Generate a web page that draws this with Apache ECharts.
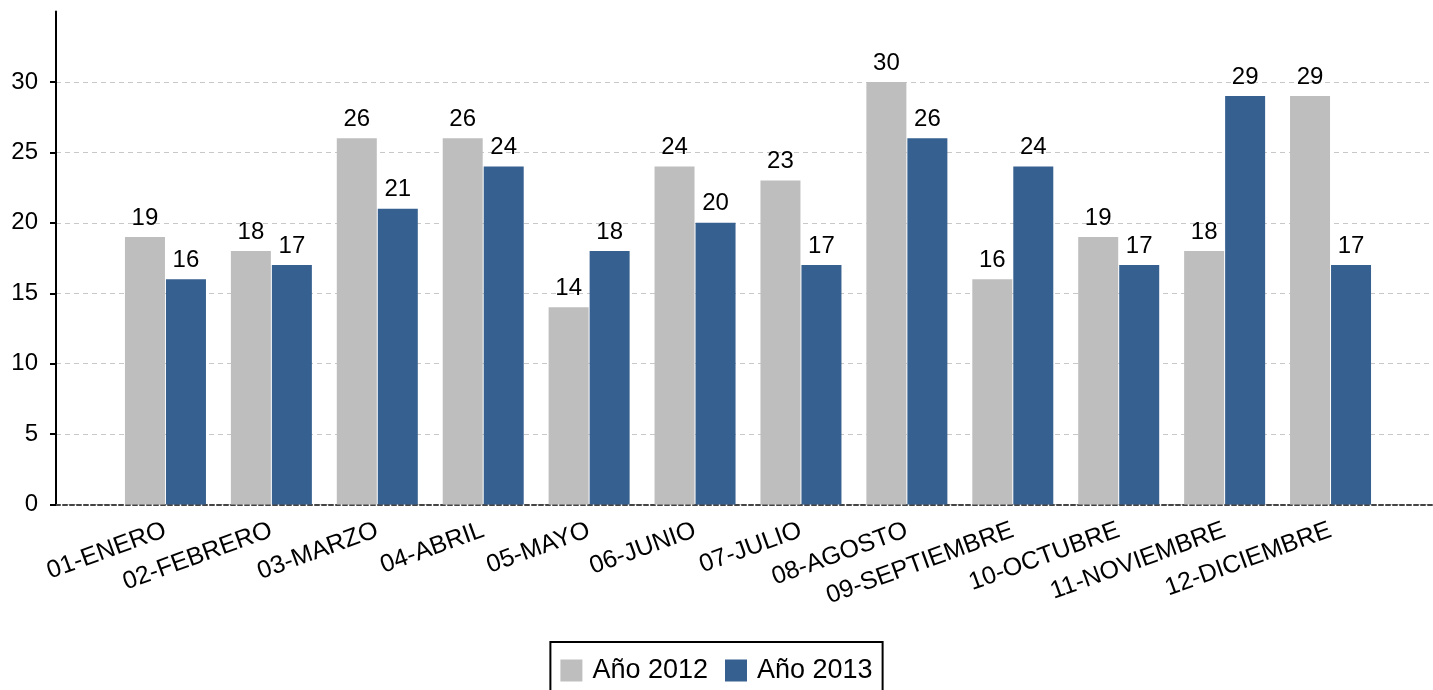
<!DOCTYPE html>
<html><head><meta charset="utf-8">
<script src="https://cdn.jsdelivr.net/npm/echarts@6/dist/echarts.min.js"></script>
<style>html,body{margin:0;padding:0;background:#fff}#c{width:1433px;height:690px}</style>
</head><body><div id="c"></div>
<script>
const categories = ['01-ENERO','02-FEBRERO','03-MARZO','04-ABRIL','05-MAYO','06-JUNIO','07-JULIO','08-AGOSTO','09-SEPTIEMBRE','10-OCTUBRE','11-NOVIEMBRE','12-DICIEMBRE'];
const seriesNames = ['Año 2012','Año 2013'];
const values2012 = [19,18,26,26,14,24,23,30,16,19,18,29];
const values2013 = [16,17,21,24,18,20,17,26,24,17,29,17];
const yTicks = {min:0, max:35, interval:5};

const font = 'Liberation Sans, Arial, sans-serif';
const chart = echarts.init(document.getElementById('c'));
const labelStyle = {show:true, position:'top', distance:7, color:'#000', fontSize:24, fontFamily:font};
chart.setOption({
  animation:false,
  textStyle:{fontFamily:font},
  grid:[
    {left:56, right:0, top:11.6, bottom:185.5},
    {left:112.5, right:49.5, top:11.6, bottom:185.5}
  ],
  xAxis:[
    {gridIndex:0, type:'value', min:0, max:1, show:true,
     axisLine:{show:true, lineStyle:{color:'#444', type:[4,3], width:2}},
     axisTick:{show:false}, axisLabel:{show:false}, splitLine:{show:false}},
    {gridIndex:1, type:'category', data:categories,
     axisLine:{show:false}, axisTick:{show:false},
     axisLabel:{rotate:20, fontSize:25, color:'#000', fontFamily:font, margin:25, interval:0}}
  ],
  yAxis:[
    {gridIndex:0, type:'value', min:yTicks.min, max:yTicks.max, interval:yTicks.interval,
     axisLine:{show:true, lineStyle:{color:'#000', width:2}},
     axisTick:{show:true, length:6, lineStyle:{color:'#000', width:2}},
     axisLabel:{fontSize:24, color:'#000', fontFamily:font, margin:18, showMaxLabel:false},
     splitLine:{show:true, showMaxLine:false, lineStyle:{color:'#c8c8c8', type:[5,4], width:1}}},
    {gridIndex:1, type:'value', min:yTicks.min, max:yTicks.max, interval:yTicks.interval, show:false}
  ],
  legend:{
    data:seriesNames, left:'center', top:642, orient:'horizontal',
    borderColor:'#000', borderWidth:2, padding:[15,10,15,10],
    itemWidth:22, itemHeight:22, itemGap:17, icon:'rect',
    textStyle:{fontSize:27, color:'#000', fontFamily:font, padding:[0,0,0,5]}
  },
  series:[
    {name:seriesNames[0], type:'bar', xAxisIndex:1, yAxisIndex:1, data:values2012,
     barWidth:40, barGap:'2.5%', itemStyle:{color:'#bebebe'}, label:labelStyle},
    {name:seriesNames[1], type:'bar', xAxisIndex:1, yAxisIndex:1, data:values2013,
     barWidth:40, barGap:'2.5%', itemStyle:{color:'#36608f'}, label:labelStyle}
  ]
});
</script></body></html>
